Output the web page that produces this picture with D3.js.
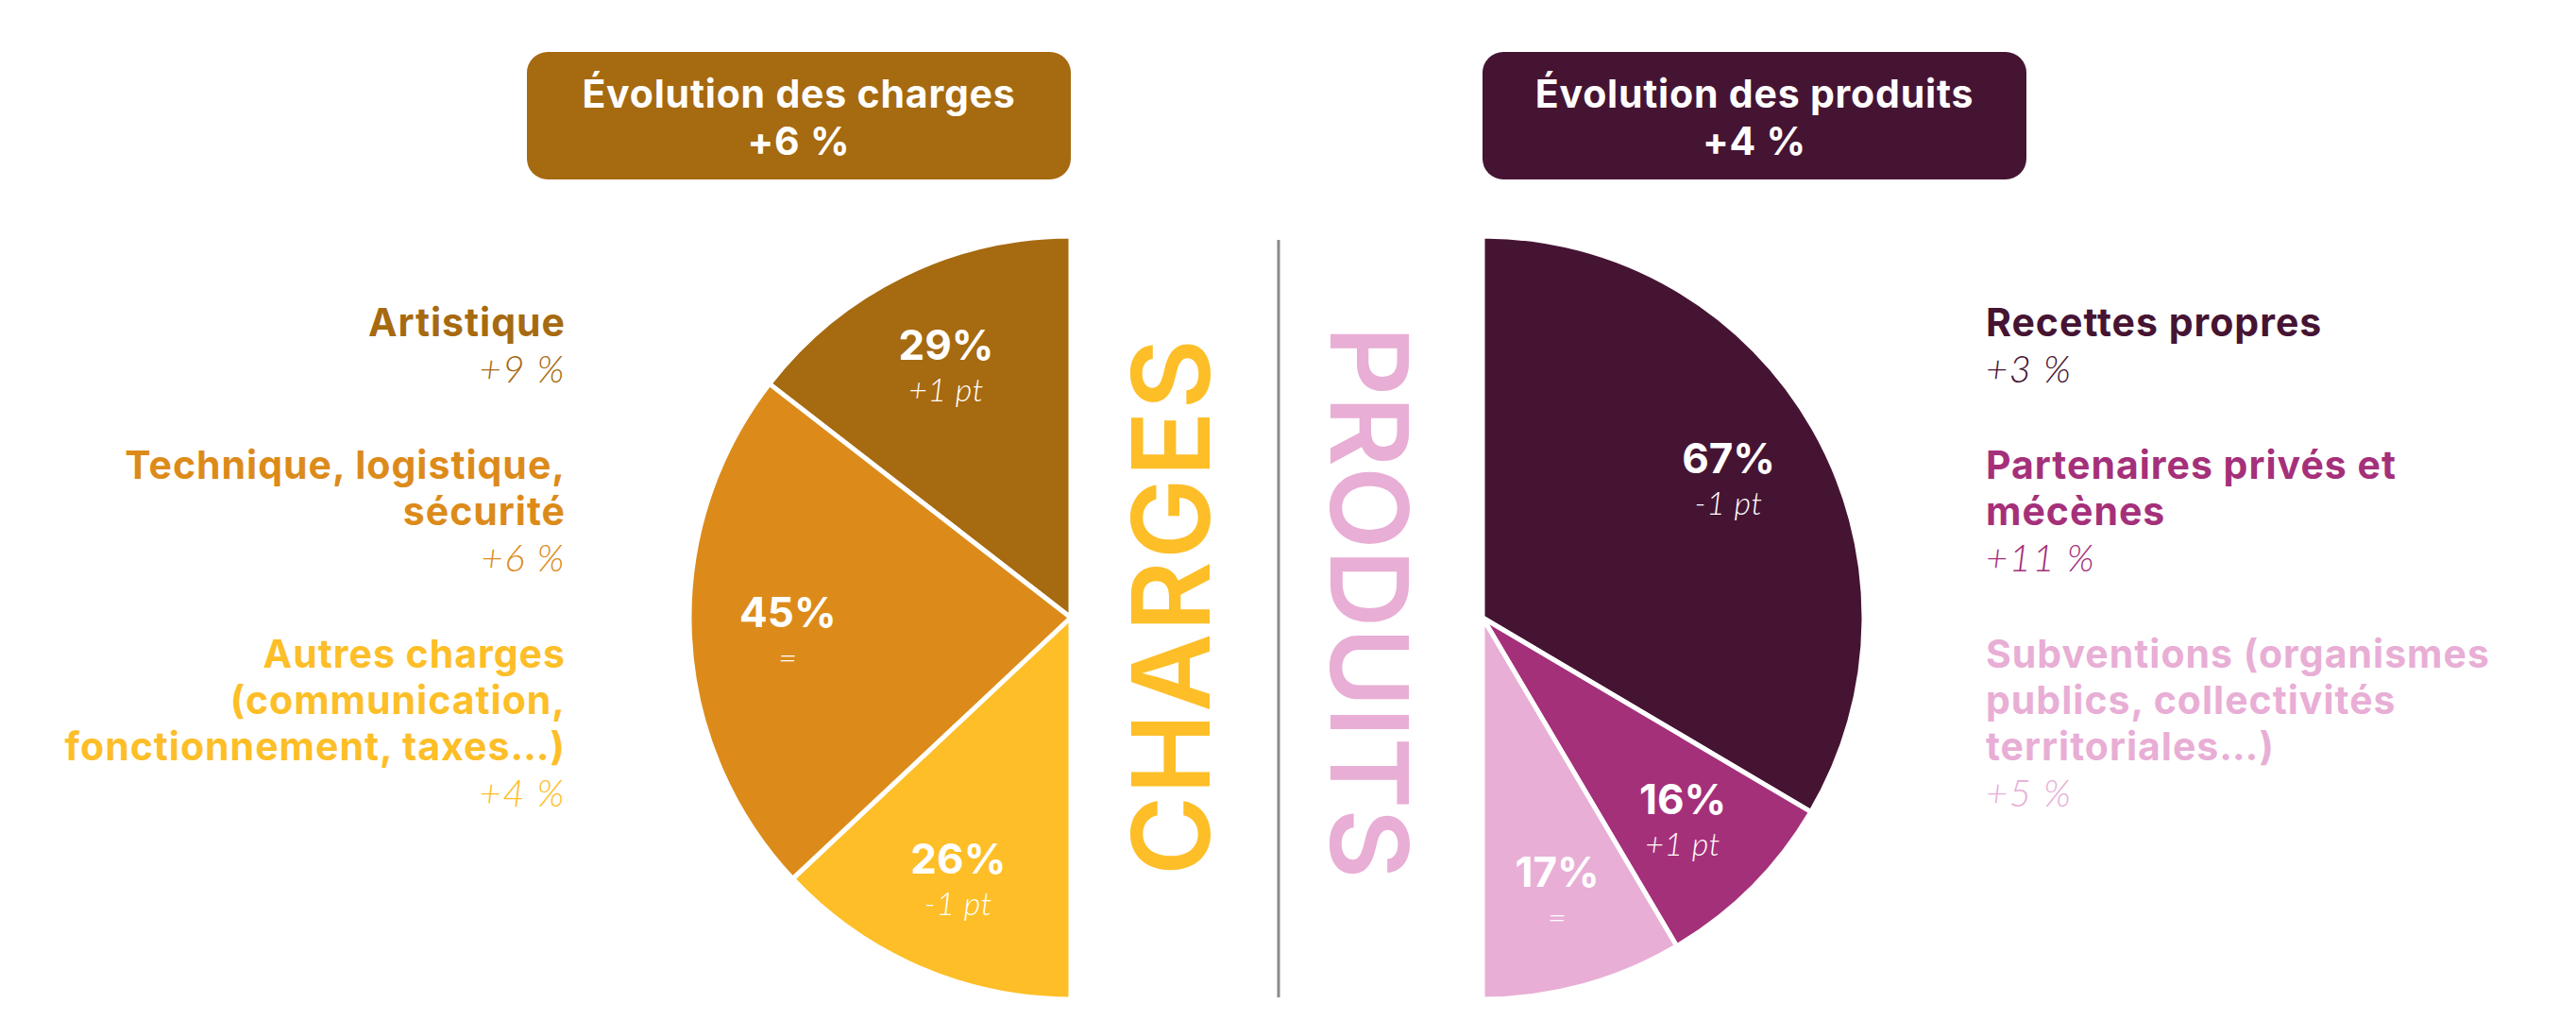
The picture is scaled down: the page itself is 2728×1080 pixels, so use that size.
<!DOCTYPE html>
<html>
<head>
<meta charset="utf-8">
<script src="https://cdn.jsdelivr.net/npm/d3@7"></script>
<style>
  body { margin: 0; background: #fff; }
  svg { display: block; }
</style>
</head>
<body>
<div id="chart"></div>
<script>
// charges (left half)
var chargesTotal = "+6 %";
var chargesNames = [["Artistique"], ["Technique, logistique,", "sécurité"], ["Autres charges", "(communication,", "fonctionnement, taxes…)"]];
var chargesShare = [29, 45, 26];
var chargesShift = ["+1 pt", "=", "-1 pt"];
var chargesEvol = ["+9 %", "+6 %", "+4 %"];

// produits (right half)
var produitsTotal = "+4 %";
var produitsNames = [["Recettes propres"], ["Partenaires privés et", "mécènes"], ["Subventions (organismes", "publics, collectivités", "territoriales…)"]];
var produitsShare = [67, 16, 17];
var produitsShift = ["-1 pt", "+1 pt", "="];
var produitsEvol = ["+3 %", "+11 %", "+5 %"];

var chargesColor = ["#a66a10", "#dc8b1a", "#fdbe27"];
var produitsColor = ["#461433", "#a5307a", "#e8aed5"];

var width = 2728, height = 1080;
var midX = 1352, cy = 654, radius = 404;
var boldFont = "Inter, 'Noto Sans', sans-serif";
var lightFont = "Lato, Roboto, sans-serif";

var svg = d3.select("#chart")
  .append("svg")
    .attr("width", width)
    .attr("height", height);

svg.append("rect").attr("width", width).attr("height", height).attr("fill", "#fff");

// divider
svg.append("line")
  .attr("x1", midX + 2).attr("x2", midX + 2)
  .attr("y1", 254).attr("y2", 1056)
  .attr("stroke", "#8a8a8a")
  .attr("stroke-width", 3);

function half(opt) {
  var cx = midX + opt.side * 218;
  var g = svg.append("g").attr("transform", "translate(" + cx + "," + cy + ")");

  var pie = d3.pie().sort(null).value(function(d) { return d; })
    .startAngle(0).endAngle(opt.side * Math.PI);
  var arcs = pie(opt.share);
  var arc = d3.arc().innerRadius(0).outerRadius(radius);
  var labelArc = d3.arc().innerRadius(300).outerRadius(300);

  g.selectAll("path.slice")
    .data(arcs)
    .enter().append("path")
      .attr("class", "slice")
      .attr("d", arc)
      .attr("fill", function(d, i) { return opt.color[i]; })
      .attr("stroke", "#fff")
      .attr("stroke-width", 5)
      .attr("stroke-linejoin", "round");

  var lab = g.selectAll("g.lab")
    .data(arcs)
    .enter().append("g")
      .attr("class", "lab")
      .attr("transform", function(d) { return "translate(" + labelArc.centroid(d) + ")"; });
  lab.append("text")
    .attr("y", -4)
    .attr("text-anchor", "middle")
    .attr("font-family", boldFont)
    .attr("font-weight", 700)
    .attr("font-size", 44)
    .attr("fill", "#fff")
    .text(function(d) { return d.data + "%"; });
  lab.append("text")
    .attr("y", 40)
    .attr("text-anchor", "middle")
    .attr("font-family", lightFont)
    .attr("font-weight", 300)
    .attr("font-style", "italic")
    .attr("font-size", 34)
    .attr("letter-spacing", 0.5)
    .attr("fill", "#fff")
    .text(function(d, i) { return opt.shift[i]; });

  // header box
  var bx = cx - (opt.side < 0 ? 576 : 0);
  svg.append("rect")
    .attr("x", bx).attr("y", 55)
    .attr("width", 576).attr("height", 135)
    .attr("rx", 22)
    .attr("fill", opt.color[0]);
  [opt.title, opt.total].forEach(function(t, k) {
    svg.append("text")
      .attr("x", bx + 288).attr("y", 114 + k * 50)
      .attr("text-anchor", "middle")
      .attr("font-family", boldFont)
      .attr("font-weight", 700)
      .attr("font-size", 41)
      .attr("letter-spacing", 0.8)
      .attr("fill", "#fff")
      .text(t);
  });

  // big vertical word
  svg.append("text")
    .attr("transform", "translate(" + opt.wordX + "," + opt.wordY + ") rotate(" + (opt.side * 90) + ")")
    .attr("text-anchor", "middle")
    .attr("dy", "0.36em")
    .attr("font-family", boldFont)
    .attr("font-weight", 600)
    .attr("font-size", 114)
    .attr("textLength", opt.wordLen)
    .attr("lengthAdjust", "spacing")
    .attr("fill", opt.color[2])
    .text(opt.word);

  // legend
  var lx = opt.side < 0 ? 599 : 2103;
  var anchor = opt.side < 0 ? "end" : "start";
  var y = 356;
  opt.names.forEach(function(lines, i) {
    lines.forEach(function(t) {
      svg.append("text")
        .attr("x", lx).attr("y", y)
        .attr("text-anchor", anchor)
        .attr("font-family", boldFont)
        .attr("font-weight", 700)
        .attr("font-size", 41)
        .attr("letter-spacing", 1)
        .attr("fill", opt.color[i])
        .text(t);
      y += 49;
    });
    svg.append("text")
      .attr("x", lx).attr("y", y)
      .attr("text-anchor", anchor)
      .attr("font-family", lightFont)
      .attr("font-weight", 300)
      .attr("font-style", "italic")
      .attr("font-size", 40)
      .attr("letter-spacing", 1.5)
      .attr("fill", opt.color[i])
      .text(opt.evol[i]);
    y += 102;
  });
}

half({ side: -1, share: chargesShare, shift: chargesShift, evol: chargesEvol, names: chargesNames,
       color: chargesColor, title: "Évolution des charges", total: chargesTotal,
       word: "CHARGES", wordLen: 568, wordX: 1240, wordY: 643 });
half({ side: 1, share: produitsShare, shift: produitsShift, evol: produitsEvol, names: produitsNames,
       color: produitsColor, title: "Évolution des produits", total: produitsTotal,
       word: "PRODUITS", wordLen: 585, wordX: 1450, wordY: 638 });
</script>
</body>
</html>
